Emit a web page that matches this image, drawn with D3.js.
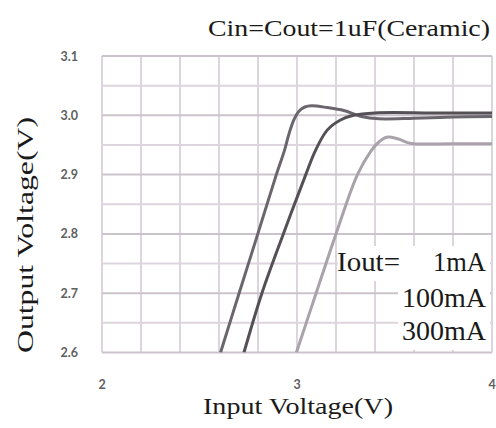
<!DOCTYPE html>
<html>
<head>
  <meta charset="utf-8"><script src="https://d3js.org/d3.v7.min.js"></script>
  <style>body{margin:0;background:#fff}</style>
</head>
<body>
  <svg id="mychart" width="496" height="428" style="background: white"></svg>
<script>
  // series: input voltage vs output voltage
  const vin1 = [2.608, 2.703, 2.799, 2.894, 2.935, 2.96, 2.985, 3.01, 3.04, 3.075, 3.155, 3.24, 3.33, 3.42, 3.6, 3.8, 4.0]
  const vout1 = [2.6, 2.7, 2.8, 2.9, 2.94, 2.97, 2.993, 3.007, 3.014, 3.016, 3.013, 3.008, 2.998, 2.994, 2.995, 2.997, 2.998]

  const vin2 = [2.728, 2.82, 2.93, 3.045, 3.095, 3.155, 3.223, 3.29, 3.4, 3.7, 4.0]
  const vout2 = [2.6, 2.7, 2.8, 2.9, 2.941, 2.975, 2.992, 3.0, 3.004, 3.004, 3.004]

  const vin3 = [2.997, 3.098, 3.2, 3.31, 3.38, 3.42, 3.46, 3.52, 3.58, 3.8, 4.0]
  const vout3 = [2.6, 2.7, 2.8, 2.9, 2.94, 2.955, 2.963, 2.960, 2.953, 2.952, 2.952]

  const seriesNames = ["1mA", "100mA", "300mA"]
  const xTicks = [2, 3, 4]
  const yTicks = [2.6, 2.7, 2.8, 2.9, 3.0, 3.1]

  const width = 496, height = 428
  const margin = {top: 56, right: 4, bottom: 75.5, left: 102}

  const x = d3.scaleLinear().domain([2, 4]).range([margin.left, width - margin.right])
  const y = d3.scaleLinear().domain([2.6, 3.1]).range([height - margin.bottom, margin.top])

  const svg = d3.select("#mychart")

  // grid
  const grid = svg.append("g")
  grid.selectAll(".vx").data(d3.range(2, 4.001, 0.2)).join("line")
      .attr("x1", d => x(d)).attr("x2", d => x(d))
      .attr("y1", y(2.6)).attr("y2", y(3.1))
      .attr("stroke", "#ddd5dd").attr("stroke-width", 2)
  grid.selectAll(".hy").data(d3.range(2.6, 3.1001, 0.05)).join("line")
      .attr("x1", x(2)).attr("x2", x(4))
      .attr("y1", d => y(d)).attr("y2", d => y(d))
      .attr("stroke", (d, i) => i % 2 === 0 ? "#cbc3cb" : "#ddd5dd").attr("stroke-width", 2)

  // axes labels
  svg.append("g").selectAll("text").data(yTicks).join("text")
      .attr("x", 78).attr("y", d => y(d) + 4.5)
      .attr("text-anchor", "end")
      .attr("font-family", "Lato").attr("font-weight", "bold").attr("font-size", 12.5)
      .attr("fill", "#606060")
      .text(d => d.toFixed(1))
  svg.append("g").selectAll("text").data(xTicks).join("text")
      .attr("x", d => x(d)).attr("y", 389)
      .attr("text-anchor", "middle")
      .attr("font-family", "Lato").attr("font-weight", "bold").attr("font-size", 12.5)
      .attr("fill", "#606060")
      .text(d => d)

  // curves
  svg.append("clipPath").attr("id", "clip")
    .append("rect").attr("x", x(2)).attr("y", y(3.1)).attr("width", x(4) - x(2)).attr("height", y(2.6) - y(3.1))

  const line = d3.line().x(d => x(d[0])).y(d => y(d[1])).curve(d3.curveCatmullRom.alpha(0.5))
  const series = [
    {name: seriesNames[2], pts: d3.zip(vin3, vout3), color: "#aaa2aa"},
    {name: seriesNames[0], pts: d3.zip(vin1, vout1), color: "#6b666d"},
    {name: seriesNames[1], pts: d3.zip(vin2, vout2), color: "#545056"}
  ]
  svg.append("g").attr("clip-path", "url(#clip)")
    .selectAll("path").data(series).join("path")
      .attr("fill", "none")
      .attr("stroke", d => d.color)
      .attr("stroke-width", 3)
      .attr("stroke-linejoin", "round")
      .attr("d", d => line(d.pts))

  // legend boxes hide the grid behind the text
  svg.append("rect").attr("x", 338).attr("y", 246).attr("width", 152).attr("height", 35).attr("fill", "#fff")
  svg.append("rect").attr("x", 398).attr("y", 281).attr("width", 92).attr("height", 69).attr("fill", "#fff")

  // texts
  const serif = "Liberation Serif"
  svg.append("text")
      .attr("x", 208).attr("y", 36)
      .attr("font-family", serif).attr("font-size", 23).attr("fill", "#1a1a1a")
      .attr("textLength", 282).attr("lengthAdjust", "spacingAndGlyphs")
      .text("Cin=Cout=1uF(Ceramic)")
  svg.append("text")
      .attr("transform", "translate(33,353) rotate(-90)")
      .attr("font-family", serif).attr("font-size", 23).attr("fill", "#1a1a1a")
      .attr("textLength", 236).attr("lengthAdjust", "spacingAndGlyphs")
      .text("Output Voltage(V)")
  svg.append("text")
      .attr("x", 203).attr("y", 414)
      .attr("font-family", serif).attr("font-size", 23).attr("fill", "#1a1a1a")
      .attr("textLength", 190).attr("lengthAdjust", "spacingAndGlyphs")
      .text("Input Voltage(V)")

  // legend text
  const leg = svg.append("g").attr("font-family", serif).attr("font-size", 28).attr("fill", "#1a1a1a")
  leg.append("text").attr("x", 337).attr("y", 271)
      .attr("textLength", 63).attr("lengthAdjust", "spacingAndGlyphs").text("Iout=")
  leg.selectAll(".v").data(seriesNames).join("text")
      .attr("x", (d, i) => [433, 402, 402][i]).attr("y", (d, i) => [271, 307, 340][i])
      .attr("textLength", (d, i) => [53, 84, 84][i]).attr("lengthAdjust", "spacingAndGlyphs")
      .text(d => d)
</script>
</body>
</html>
